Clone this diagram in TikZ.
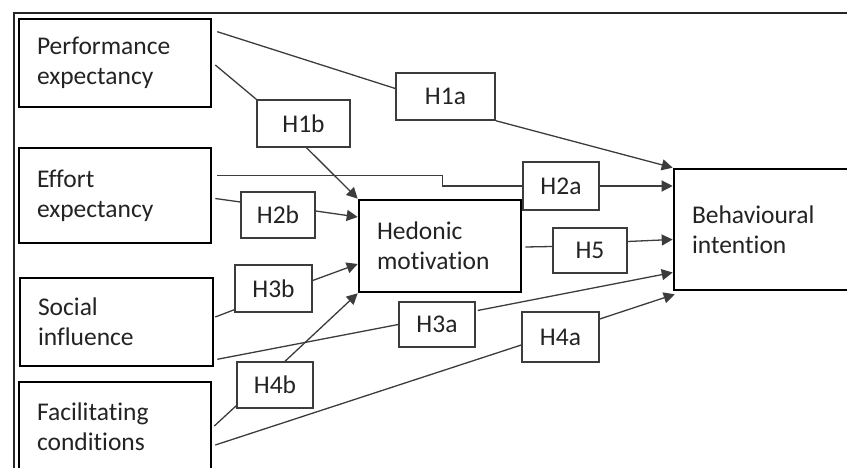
\documentclass[tikz,border=0pt]{standalone}
\usepackage{fontspec}
\setmainfont{Carlito}[Ligatures=NoCommon]
\usepackage{xcolor}
\usetikzlibrary{arrows.meta, positioning, calc}
\definecolor{linegray}{RGB}{60, 60, 60}
\definecolor{textgray}{RGB}{35, 35, 35}

\begin{document}
\begin{tikzpicture}[
    x=1pt, y=-1pt,
    font=\fontsize{25.5}{30}\selectfont,
    % Styles
    mainbox/.style={draw=black, line width=2.6pt, align=left, text=textgray, inner xsep=18pt, inner ysep=0pt},
    hypbox/.style={draw=linegray, line width=1.4pt, text=textgray, inner sep=0pt},
    link/.style={line width=1.3pt, linegray},
    arrow/.style={link, -{Triangle[length=11pt, width=11pt]}}
]
    \clip (0,0) rectangle (847,468);

    % Outer frame
    \draw [line width=1.8pt, black!85] (14,13) rectangle (880,500);

    % Predictors
    \node (perf) [mainbox, text width=156pt, minimum height=88pt] at (115,63) {
        Performance\\
        expectancy
    };
    \node (effort) [mainbox, text width=156pt, minimum height=95pt] at (115,195.5) {
        Effort\\
        expectancy
    };
    \node (social) [mainbox, text width=157pt, minimum height=88pt] at (116.5,322) {
        Social\\
        influence
    };
    \node (facil) [mainbox, text width=156pt, minimum height=90pt] at (115,427) {
        Facilitating\\
        conditions
    };

    % Mediator and outcome
    \node (hedonic) [mainbox, text width=126pt, minimum height=92pt] at (440,246) {
        Hedonic\\
        motivation
    };
    \node (behav) [mainbox, text width=150pt, minimum height=121pt] at (767,229.5) {
        Behavioural\\
        intention
    };

    % Hypothesis labels
    \node (h1a) [hypbox, minimum width=99pt, minimum height=47pt] at (445.5,96.5) {H1a};
    \node (h1b) [hypbox, minimum width=93pt, minimum height=47pt] at (303.5,123.5) {H1b};
    \node (h2a) [hypbox, minimum width=76pt, minimum height=48pt] at (561,186) {H2a};
    \node (h2b) [hypbox, minimum width=74pt, minimum height=46pt] at (278,215) {H2b};
    \node (h5)  [hypbox, minimum width=74pt, minimum height=45pt] at (590,250.5) {H5};
    \node (h3b) [hypbox, minimum width=77pt, minimum height=47pt] at (273.5,288.5) {H3b};
    \node (h3a) [hypbox, minimum width=76pt, minimum height=45pt] at (437,324.5) {H3a};
    \node (h4b) [hypbox, minimum width=76pt, minimum height=46pt] at (275,385) {H4b};
    \node (h4a) [hypbox, minimum width=77pt, minimum height=50pt] at (560.5,337) {H4a};

    % Paths from performance expectancy
    \draw [link] ($(perf.north east)+(5,14)$) -- ($(h1a.west)+(0,-8)$);
    \draw [arrow] (h1a.south east) -- (behav.north west);
    \draw [link] ($(perf.east)+(3,2)$) -- (h1b.north west);
    \draw [arrow] ($(h1b.south)+(3,0)$) -- (hedonic.north west);

    % Paths from effort expectancy
    \draw [link] ($(effort.east)+(5,-20)$) -| ($(h2a.west)+(-80,0)$) -- (h2a.west);
    \draw [arrow] (h2a.east) -- (h2a.east -| behav.west);
    \draw [link] ($(effort.east)+(3,3)$) -- ($(h2b.west)+(0,-13)$);
    \draw [arrow] ($(h2b.east)+(0,-4)$) -- ($(hedonic.west)+(0,-29)$);

    % Hedonic motivation to intention
    \draw [link] ($(hedonic.east)+(3,1)$) -- ($(h5.west)+(0,-4)$);
    \draw [arrow] ($(h5.east)+(0,-9)$) -- ($(behav.west)+(0,10)$);

    % Paths from social influence
    \draw [link] ($(social.east)+(1,-5)$) -- ($(h3b.south west)+(0,-3)$);
    \draw [arrow] ($(h3b.east)+(0,-8)$) -- ($(hedonic.west)+(0,18)$);
    \draw [link] ($(social.south east)+(3,-8)$) -- (h3a.west);
    \draw [arrow] ($(h3a.east)+(2,-14)$) -- ($(behav.west)+(0,43)$);

    % Paths from facilitating conditions
    \draw [link] ($(facil.east)+(2,-1)$) -- ($(h4b.south west)+(0,-3)$);
    \draw [arrow] ($(h4b.north)+(10,0)$) -- (hedonic.south west);
    \draw [link] ($(facil.east)+(3,18)$) -- ($(h4a.west)+(0,8)$);
    \draw [arrow] ($(h4a.east)+(0,-18)$) -- ($(behav.south west)+(2,3)$);

\end{tikzpicture}
\end{document}
